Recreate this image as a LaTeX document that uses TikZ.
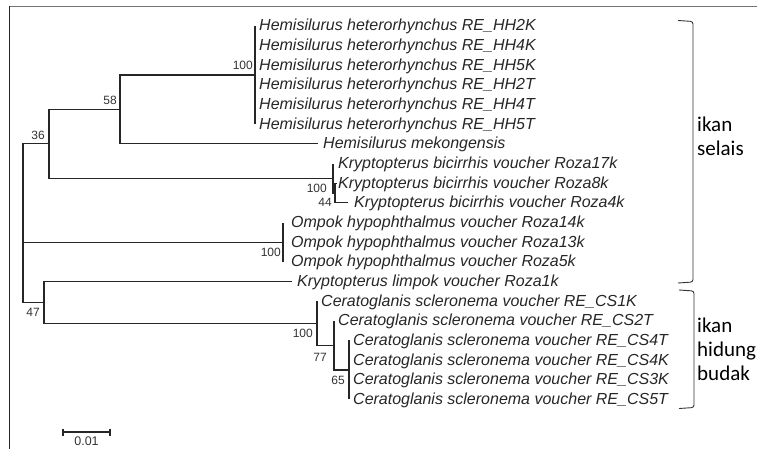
\documentclass[tikz,border=0pt]{standalone}
\usepackage{fontspec}
\setmainfont{Liberation Sans}
\newfontfamily\leaffont{Liberation Sans}
\newfontfamily\grpfont{Carlito}
\usetikzlibrary{calc}
\begin{document}
\begin{tikzpicture}[x=1pt,y=-1pt,
  br/.style={line width=1.2pt, draw=black!85},
  leaf/.style={anchor=base west, inner sep=0pt, font=\leaffont\itshape\fontsize{16}{18}\selectfont, text=black!85},
  boot/.style={inner sep=0pt, font=\fontsize{12}{14}\selectfont, text=black!80},
  grp/.style={anchor=base west, align=left, inner sep=0pt, font=\grpfont\fontsize{21}{24}\selectfont, text=black},
  brk/.style={draw=black!80, line width=0.9pt, rounded corners=2.5pt},
  topframe/.style={draw=black!55, line width=1.6pt},
  leftframe/.style={draw=black!85, line width=1pt}]
\useasboundingbox (0,0) rectangle (757,449);
% frame
\coordinate (fa) at (9.5,6.5);
\coordinate (fb) at (757,6.5);
\coordinate (fc) at (9.5,449);
\draw[topframe] (fa) -- (fb);
\draw[leftframe] (fa) -- (fc);
% internal nodes
\coordinate (root) at (23,242.15);
\coordinate (n36) at (49,143.9);
\coordinate (n58) at (120,109.5);
\coordinate (hh) at (255,75.1);
\coordinate (kb) at (333,178.3);
\coordinate (n44) at (335,193.0);
\coordinate (om) at (283,242.15);
\coordinate (n47) at (44,302.3);
\coordinate (cs) at (317,323.2);
\coordinate (n77) at (334,345.3);
\coordinate (n65) at (349,369.9);
% leaf ends
\coordinate (l0) at (255,26);
\coordinate (l1) at (255,45.65);
\coordinate (l2) at (255,65.3);
\coordinate (l3) at (255,84.95);
\coordinate (l4) at (255,104.6);
\coordinate (l5) at (255,124.25);
\coordinate (l6) at (318,143.9);
\coordinate (l7) at (333,163.55);
\coordinate (l8) at (337,183.2);
\coordinate (l9) at (348,202.85);
\coordinate (l10) at (283,222.5);
\coordinate (l11) at (283,242.15);
\coordinate (l12) at (283,261.8);
\coordinate (l13) at (292,281.45);
\coordinate (l14) at (317,301.1);
\coordinate (l15) at (334,320.75);
\coordinate (l16) at (349,340.4);
\coordinate (l17) at (349,360.05);
\coordinate (l18) at (349,379.7);
\coordinate (l19) at (349,399.35);
% branches
\draw[br] (root) |- (n36);
\draw[br] (root) |- (om);
\draw[br] (root) |- (n47);
\draw[br, line width=2.3pt] (23,192) -- (root);
\draw[br] (n36) |- (n58);
\draw[br] (n36) |- (kb);
\draw[br] (n58) |- (hh);
\draw[br] (n58) |- (l6);
\draw[br] (hh) |- (l0);
\draw[br] (hh) |- (l5);
\draw[br] (kb) |- (l7);
\draw[br] (kb) |- (n44);
\draw[br, line width=2.2pt] (334,184) -- (334,193);
\draw[br] (n44) |- (l8);
\draw[br] (n44) |- (l9);
\draw[br] (om) |- (l10);
\draw[br] (om) |- (l12);
\draw[br] (n47) |- (l13);
\draw[br] (n47) |- (cs);
\draw[br] (cs) |- (l14);
\draw[br] (cs) |- (n77);
\draw[br] (n77) |- (l15);
\draw[br] (n77) |- (n65);
\draw[br] (n65) |- (l16);
\draw[br] (n65) |- (l19);
% leaf labels
\node[leaf] (t0) at ($(l0)+(4,5)$) {Hemisilurus heterorhynchus RE\_HH2K};
\node[leaf] (t1) at ($(l1)+(4,5)$) {Hemisilurus heterorhynchus RE\_HH4K};
\node[leaf] (t2) at ($(l2)+(4,5)$) {Hemisilurus heterorhynchus RE\_HH5K};
\node[leaf] (t3) at ($(l3)+(4,5)$) {Hemisilurus heterorhynchus RE\_HH2T};
\node[leaf] (t4) at ($(l4)+(4,5)$) {Hemisilurus heterorhynchus RE\_HH4T};
\node[leaf] (t5) at ($(l5)+(4,5)$) {Hemisilurus heterorhynchus RE\_HH5T};
\node[leaf] (t6) at ($(l6)+(5,5)$) {Hemisilurus mekongensis};
\node[leaf] (t7) at ($(l7)+(5,5)$) {Kryptopterus bicirrhis voucher Roza17k};
\node[leaf] (t8) at ($(l8)+(1,5)$) {Kryptopterus bicirrhis voucher Roza8k};
\node[leaf] (t9) at ($(l9)+(6,5)$) {Kryptopterus bicirrhis voucher Roza4k};
\node[leaf] (t10) at ($(l10)+(8,5)$) {Ompok hypophthalmus voucher Roza14k};
\node[leaf] (t11) at ($(l11)+(8,5)$) {Ompok hypophthalmus voucher Roza13k};
\node[leaf] (t12) at ($(l12)+(8,5)$) {Ompok hypophthalmus voucher Roza5k};
\node[leaf] (t13) at ($(l13)+(5,5)$) {Kryptopterus limpok voucher Roza1k};
\node[leaf] (t14) at ($(l14)+(4,5)$) {Ceratoglanis scleronema voucher RE\_CS1K};
\node[leaf] (t15) at ($(l15)+(4,5)$) {Ceratoglanis scleronema voucher RE\_CS2T};
\node[leaf] (t16) at ($(l16)+(4,5)$) {Ceratoglanis scleronema voucher RE\_CS4T};
\node[leaf] (t17) at ($(l17)+(4,5)$) {Ceratoglanis scleronema voucher RE\_CS4K};
\node[leaf] (t18) at ($(l18)+(4,5)$) {Ceratoglanis scleronema voucher RE\_CS3K};
\node[leaf] (t19) at ($(l19)+(4,5)$) {Ceratoglanis scleronema voucher RE\_CS5T};
% bootstrap values
\node[boot, anchor=south east] (bhh) at ($(hh)+(-2,-5)$) {100};
\node[boot, anchor=south east] (b58) at ($(n58)+(-3,-4.5)$) {58};
\node[boot, anchor=south east] (b36) at ($(n36)+(-4,-4)$) {36};
\node[boot, anchor=north east] (bkb) at ($(kb)+(-6,6)$) {100};
\node[boot, anchor=north east] (b44) at ($(n44)+(-3,5)$) {44};
\node[boot, anchor=north east] (bom) at ($(om)+(-2,6)$) {100};
\node[boot, anchor=north east] (bcs) at ($(cs)+(-4,6)$) {100};
\node[boot, anchor=north east] (b77) at ($(n77)+(-7,7.5)$) {77};
\node[boot, anchor=north east] (b65) at ($(n65)+(-4,6)$) {65};
\node[boot, anchor=north east] (b47) at ($(n47)+(-4,5.5)$) {47};
% scale bar
\coordinate (sa) at (63,432);
\coordinate (sb) at (110,432);
\draw[br, line width=1.3pt] (sa) -- (sb);
\draw[br, line width=1.1pt] ($(sa)+(0,-3.5)$) -- ($(sa)+(0,3.5)$);
\draw[br, line width=1.1pt] ($(sb)+(0,-3.5)$) -- ($(sb)+(0,3.5)$);
\node[boot, anchor=north, font=\fontsize{12.5}{14}\selectfont] (sl) at ($(sa)!0.5!(sb)+(0,4.5)$) {0.01};
% brackets
\coordinate (ba1) at (678,20.5);
\coordinate (ba2) at (693,21.5);
\coordinate (ba3) at (693,282);
\coordinate (ba4) at (678,283);
\draw[brk] (ba1) -- (ba2) -- (ba3) -- (ba4);
\coordinate (bb1) at (679,290);
\coordinate (bb2) at (694,291);
\coordinate (bb3) at (694,407.5);
\coordinate (bb4) at (679,408.5);
\draw[brk] (bb1) -- (bb2) -- (bb3) -- (bb4);
% group labels (base = last line)
\node[grp] (g1) at (697,156) {ikan\\selais};
\node[grp] (g2) at (697,380) {ikan\\hidung\\budak};
\end{tikzpicture}
\end{document}
